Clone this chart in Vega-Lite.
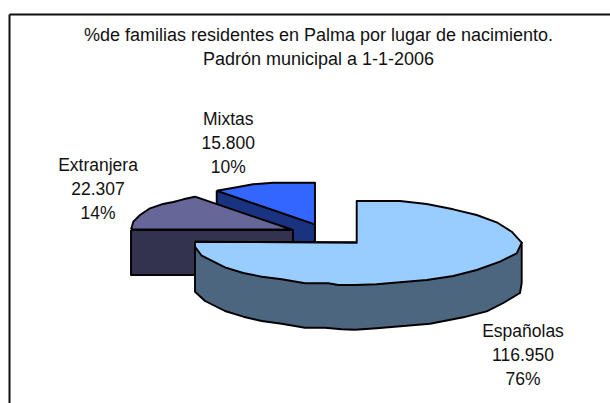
{"$schema":"https://vega.github.io/schema/vega-lite/v6.json","width":601,"height":389,"padding":{"left":9,"top":14,"right":0,"bottom":0},"autosize":"none","background":"white","view":{"stroke":null},
"title":{"text":["%de familias residentes en Palma por lugar de nacimiento.","Padrón municipal a 1-1-2006"],"anchor":"middle","frame":"group","offset":-69,"dx":9,"baseline":"alphabetic","font":"Liberation Sans","fontSize":18,"fontWeight":"normal","color":"#111111","lineHeight":24.5},
"layer":[
{"data":{"values":[
{"parte":"Mixtas lateral","n":1,"x":216.7,"y":190.7},{"parte":"Mixtas lateral","n":2,"x":315,"y":224.3},{"parte":"Mixtas lateral","n":3,"x":315,"y":242},{"parte":"Mixtas lateral","n":4,"x":216.7,"y":242},{"parte":"Mixtas lateral","n":5,"x":216.7,"y":190.7},
{"parte":"Mixtas","n":1,"x":216.7,"y":190.7},{"parte":"Mixtas","n":2,"x":236.7,"y":187.3},{"parte":"Mixtas","n":3,"x":253,"y":184.3},{"parte":"Mixtas","n":4,"x":273,"y":182.7},{"parte":"Mixtas","n":5,"x":315,"y":182.7},{"parte":"Mixtas","n":6,"x":315,"y":224.3},{"parte":"Mixtas","n":7,"x":216.7,"y":190.7},
{"parte":"Extranjera lateral","n":1,"x":131,"y":230},{"parte":"Extranjera lateral","n":2,"x":293,"y":230},{"parte":"Extranjera lateral","n":3,"x":293,"y":275},{"parte":"Extranjera lateral","n":4,"x":131,"y":275},{"parte":"Extranjera lateral","n":5,"x":131,"y":230},
{"parte":"Extranjera","n":1,"x":131,"y":229.5},{"parte":"Extranjera","n":2,"x":133.3,"y":221.7},{"parte":"Extranjera","n":3,"x":140,"y":215},{"parte":"Extranjera","n":4,"x":150,"y":208.3},{"parte":"Extranjera","n":5,"x":161.7,"y":204.3},{"parte":"Extranjera","n":6,"x":173.3,"y":202},{"parte":"Extranjera","n":7,"x":183.3,"y":199.3},{"parte":"Extranjera","n":8,"x":195,"y":196.7},{"parte":"Extranjera","n":9,"x":291.7,"y":229.5},{"parte":"Extranjera","n":10,"x":131,"y":229.5},
{"parte":"Españolas lateral","n":1,"x":195,"y":241.7},{"parte":"Españolas lateral","n":2,"x":521.7,"y":242.7},{"parte":"Españolas lateral","n":3,"x":521.7,"y":283},{"parte":"Españolas lateral","n":4,"x":520,"y":293},{"parte":"Españolas lateral","n":5,"x":503.3,"y":303},{"parte":"Españolas lateral","n":6,"x":486.7,"y":311.3},{"parte":"Españolas lateral","n":7,"x":463.3,"y":317.3},{"parte":"Españolas lateral","n":8,"x":430,"y":323.7},{"parte":"Españolas lateral","n":9,"x":376.7,"y":328.3},{"parte":"Españolas lateral","n":10,"x":355,"y":329.7},{"parte":"Españolas lateral","n":11,"x":341.7,"y":329.3},{"parte":"Españolas lateral","n":12,"x":325,"y":327.7},{"parte":"Españolas lateral","n":13,"x":305,"y":327.7},{"parte":"Españolas lateral","n":14,"x":281.7,"y":323.7},{"parte":"Españolas lateral","n":15,"x":261.7,"y":321},{"parte":"Españolas lateral","n":16,"x":243.3,"y":316.7},{"parte":"Españolas lateral","n":17,"x":225,"y":311},{"parte":"Españolas lateral","n":18,"x":205,"y":301},{"parte":"Españolas lateral","n":19,"x":195,"y":291.7},{"parte":"Españolas lateral","n":20,"x":195,"y":241.7},
{"parte":"Españolas","n":1,"x":195,"y":241.7},{"parte":"Españolas","n":2,"x":356.7,"y":242.7},{"parte":"Españolas","n":3,"x":356.7,"y":201},{"parte":"Españolas","n":4,"x":400,"y":201},{"parte":"Españolas","n":5,"x":426.7,"y":204},{"parte":"Españolas","n":6,"x":453.3,"y":209.3},{"parte":"Españolas","n":7,"x":476.7,"y":215},{"parte":"Españolas","n":8,"x":496.7,"y":222.3},{"parte":"Españolas","n":9,"x":511.7,"y":231.7},{"parte":"Españolas","n":10,"x":521.7,"y":242.7},{"parte":"Españolas","n":11,"x":516.7,"y":253.3},{"parte":"Españolas","n":12,"x":500,"y":261.7},{"parte":"Españolas","n":13,"x":476.7,"y":270},{"parte":"Españolas","n":14,"x":453.3,"y":276},{"parte":"Españolas","n":15,"x":426.7,"y":280},{"parte":"Españolas","n":16,"x":400,"y":282.3},{"parte":"Españolas","n":17,"x":376.7,"y":284.3},{"parte":"Españolas","n":18,"x":355,"y":285},{"parte":"Españolas","n":19,"x":338.3,"y":285},{"parte":"Españolas","n":20,"x":328.3,"y":283.3},{"parte":"Españolas","n":21,"x":305,"y":283.3},{"parte":"Españolas","n":22,"x":281.7,"y":279.3},{"parte":"Españolas","n":23,"x":261.7,"y":276.7},{"parte":"Españolas","n":24,"x":243.3,"y":273},{"parte":"Españolas","n":25,"x":225,"y":267.3},{"parte":"Españolas","n":26,"x":201.7,"y":255.7},{"parte":"Españolas","n":27,"x":195,"y":246.7},{"parte":"Españolas","n":28,"x":195,"y":241.7}
]},
"mark":{"type":"line","stroke":"#000000","strokeWidth":1.9,"strokeJoin":"round","interpolate":"linear"},
"encoding":{
"x":{"field":"x","type":"quantitative","scale":{"domain":[9,610],"nice":false,"zero":false},"axis":{"orient":"top","title":null,"labels":false,"ticks":false,"grid":false,"domain":true,"domainColor":"#111111","domainWidth":2}},
"y":{"field":"y","type":"quantitative","scale":{"domain":[403,14],"nice":false,"zero":false},"axis":{"orient":"left","title":null,"labels":false,"ticks":false,"grid":false,"domain":true,"domainColor":"#111111","domainWidth":2}},
"order":{"field":"n","type":"quantitative"},
"fill":{"field":"parte","type":"nominal","legend":null,"sort":null,"scale":{"domain":["Mixtas lateral","Mixtas","Extranjera lateral","Extranjera","Españolas lateral","Españolas"],"range":["#1A3380","#3366FF","#33334D","#666699","#4D6680","#99CCFF"]}}
}},
{"data":{"values":[
{"etiqueta":"Mixtas\n15.800\n10%","x":228.3,"y":125.3},
{"etiqueta":"Extranjera\n22.307\n14%","x":98,"y":171.2},
{"etiqueta":"Españolas\n116.950\n76%","x":523,"y":337.3}
]},
"mark":{"type":"text","font":"Liberation Sans","fontSize":17.5,"color":"#111111","align":"center","baseline":"alphabetic","lineBreak":"\n","lineHeight":24},
"encoding":{
"x":{"field":"x","type":"quantitative"},
"y":{"field":"y","type":"quantitative"},
"text":{"field":"etiqueta","type":"nominal"}
}}
]}
